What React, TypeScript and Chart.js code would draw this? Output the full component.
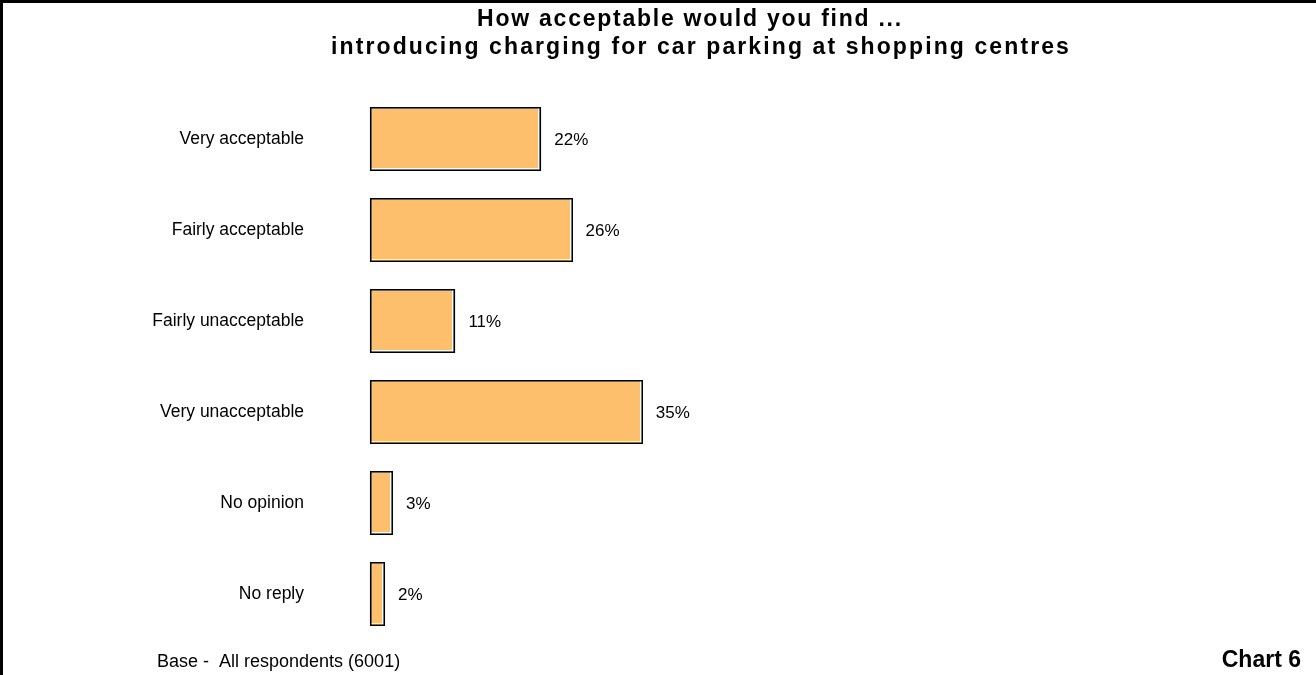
import React, { useEffect, useRef } from "react";
import { Chart, registerables } from "chart.js";

Chart.register(...registerables);

const categories = [
  "Very acceptable",
  "Fairly acceptable",
  "Fairly unacceptable",
  "Very unacceptable",
  "No opinion",
  "No reply",
];
const values = [22, 26, 11, 35, 3, 2];
const titleLines = [
  "How acceptable would you find ...",
  "introducing charging for car parking at shopping centres",
];
const footnote = "Base -  All respondents (6001)";
const chartLabel = "Chart 6";

const FONT = "'Liberation Sans', Arial, sans-serif";
const BAR_COLOR = "#FDBF6B";

const decorPlugin = {
  id: "decor",
  afterDatasetsDraw(chart: any) {
    const ctx = chart.ctx;
    const meta = chart.getDatasetMeta(0);
    ctx.save();
    meta.data.forEach((bar: any) => {
      const { x, y, base, height } = bar.getProps(["x", "y", "base", "height"], true);
      const l = Math.round(base);
      const r = Math.round(x);
      const t = Math.round(y - height / 2);
      const b = Math.round(y + height / 2);
      // inner white highlight (bottom & right)
      ctx.fillStyle = "#ffffff";
      ctx.fillRect(l, b - 3, r - l, 1.5);
      ctx.fillRect(r - 3, t, 1.5, b - t);
      // black outline
      ctx.fillStyle = "#000";
      ctx.fillRect(l, t, r - l, 1.5);
      ctx.fillRect(l, b - 1.5, r - l, 1.5);
      ctx.fillRect(l, t, 1.5, b - t);
      ctx.fillRect(r - 1.5, t, 1.5, b - t);
    });
    // value labels
    ctx.fillStyle = "#000";
    ctx.font = `17px ${FONT}`;
    ctx.textAlign = "left";
    ctx.textBaseline = "middle";
    meta.data.forEach((bar: any, i: number) => {
      const { x, y } = bar.getProps(["x", "y"], true);
      ctx.fillText(values[i] + "%", x + 13, y + 1);
    });
    ctx.restore();
  },
  afterDraw(chart: any) {
    const ctx = chart.ctx;
    const w = chart.width;
    const h = chart.height;
    ctx.save();
    // frame lines (left & top)
    ctx.fillStyle = "#000";
    ctx.fillRect(0, 0, 3, h);
    ctx.fillRect(0, 0, w, 3);
    // title
    ctx.font = `bold 23px ${FONT}`;
    ctx.textAlign = "center";
    ctx.textBaseline = "alphabetic";
    (ctx as any).letterSpacing = "1.75px";
    ctx.fillText(titleLines[0], 690, 26);
    (ctx as any).letterSpacing = "2.1px";
    ctx.fillText(titleLines[1], 701, 54);
    (ctx as any).letterSpacing = "0px";
    // footnote
    ctx.font = `18px ${FONT}`;
    ctx.textAlign = "left";
    ctx.fillText(footnote, 157, 667);
    // chart label
    ctx.font = `bold 23px ${FONT}`;
    ctx.textAlign = "right";
    ctx.fillText(chartLabel, 1301, 667);
    ctx.restore();
  },
};

export default function App() {
  const canvasRef = useRef<HTMLCanvasElement | null>(null);

  useEffect(() => {
    document.body.style.margin = "0";
    const canvas = canvasRef.current;
    if (!canvas) return;
    const chart = new Chart(canvas, {
      type: "bar",
      data: {
        labels: categories,
        datasets: [
          {
            data: values,
            backgroundColor: BAR_COLOR,
            borderWidth: 0,
            categoryPercentage: 1,
            barPercentage: 0.703,
          },
        ],
      },
      options: {
        indexAxis: "y",
        responsive: false,
        animation: false,
        devicePixelRatio: 1,
        layout: { padding: { top: 93.5, bottom: 35.5, left: 0, right: 165.5 } },
        plugins: {
          legend: { display: false },
          title: { display: false },
          tooltip: { enabled: false },
        },
        scales: {
          x: {
            display: false,
            min: 0,
            max: 100,
          },
          y: {
            grid: { display: false, drawTicks: false },
            border: { display: false },
            ticks: {
              color: "#000",
              font: { family: FONT, size: 17.5 },
              padding: 65.5,
            },
            afterFit(scale: any) {
              scale.width = 369.5;
              scale.paddingTop = 0;
              scale.paddingBottom = 0;
            },
          },
        },
      },
      plugins: [decorPlugin],
    });
    return () => chart.destroy();
  }, []);

  return (
    <div style={{ width: 1316, height: 675, background: "#fff" }}>
      <canvas ref={canvasRef} width={1316} height={675} style={{ display: "block" }} />
    </div>
  );
}
